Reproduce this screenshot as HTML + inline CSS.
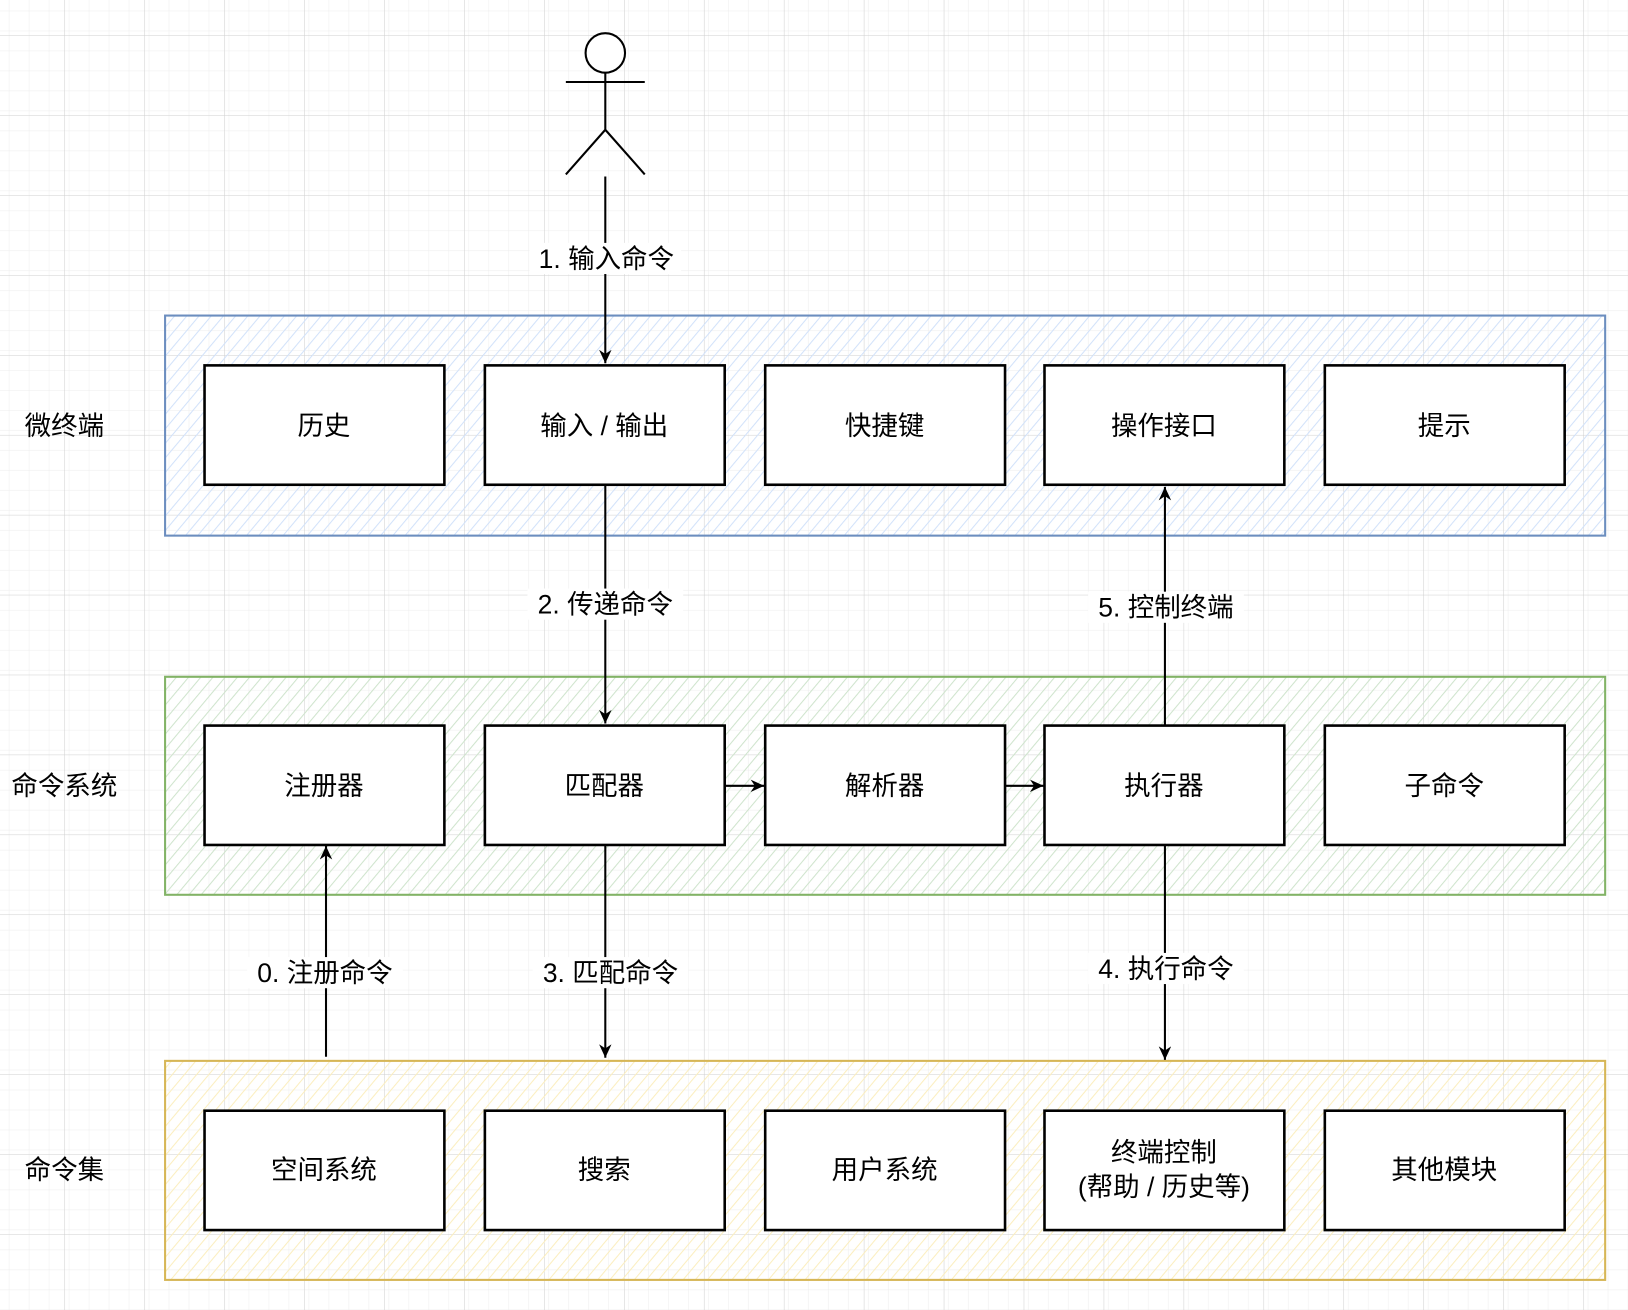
<!DOCTYPE html>
<html><head><meta charset="utf-8"><style>
html,body{margin:0;padding:0;background:#fff;}
svg{display:block;}
text{font-family:"Liberation Sans","Noto Sans CJK SC",sans-serif;font-size:25.5px;fill:#000;}
</style></head><body>
<svg width="1628" height="1310" viewBox="0 0 1568 1262" preserveAspectRatio="none" xmlns="http://www.w3.org/2000/svg">
<defs>
<pattern id="minor" x="-15" y="34" width="19.25" height="19.25" patternUnits="userSpaceOnUse">
<path d="M0 0V19.25M0 0H19.25" stroke="#ececec" stroke-width="1" fill="none"/>
</pattern>
<pattern id="major" x="-15" y="34" width="77" height="77" patternUnits="userSpaceOnUse">
<rect width="77" height="77" fill="url(#minor)"/>
<path d="M0 0V77M0 0H77" stroke="#cfcfcf" stroke-width="1" fill="none"/>
</pattern>
<pattern id="hb" width="9" height="9" patternUnits="userSpaceOnUse" patternTransform="rotate(40)">
<line x1="0" y1="0" x2="0" y2="9" stroke="#d2e2fa" stroke-width="2"/>
</pattern>
<pattern id="hg" width="9" height="9" patternUnits="userSpaceOnUse" patternTransform="rotate(40)">
<line x1="0" y1="0" x2="0" y2="9" stroke="#cfe4cd" stroke-width="2"/>
</pattern>
<pattern id="hy" width="9" height="9" patternUnits="userSpaceOnUse" patternTransform="rotate(40)">
<line x1="0" y1="0" x2="0" y2="9" stroke="#fbeebf" stroke-width="2"/>
</pattern>
<marker id="ar" markerWidth="14" markerHeight="14" refX="13" refY="6" orient="auto" markerUnits="userSpaceOnUse">
<path d="M0 0L13 6L0 12L4 6Z" fill="#000"/>
</marker>
</defs>
<rect width="1568" height="1262" fill="url(#major)"/>

<rect x="159" y="304" width="1387" height="212" fill="url(#hb)" stroke="#6c8ebf" stroke-width="2"/>
<rect x="159" y="652" width="1387" height="210" fill="url(#hg)" stroke="#82b366" stroke-width="2"/>
<rect x="159" y="1022" width="1387" height="211" fill="url(#hy)" stroke="#d6b656" stroke-width="2"/>

<g fill="#fff" stroke="#000" stroke-width="2.5">
<rect x="197" y="352" width="231" height="115"/><rect x="467" y="352" width="231" height="115"/><rect x="737" y="352" width="231" height="115"/><rect x="1006" y="352" width="231" height="115"/><rect x="1276" y="352" width="231" height="115"/>
<rect x="197" y="699" width="231" height="115"/><rect x="467" y="699" width="231" height="115"/><rect x="737" y="699" width="231" height="115"/><rect x="1006" y="699" width="231" height="115"/><rect x="1276" y="699" width="231" height="115"/>
<rect x="197" y="1070" width="231" height="115"/><rect x="467" y="1070" width="231" height="115"/><rect x="737" y="1070" width="231" height="115"/><rect x="1006" y="1070" width="231" height="115"/><rect x="1276" y="1070" width="231" height="115"/>
</g>

<g text-anchor="middle">
<text x="312" y="419">历史</text><text x="582" y="419">输入 / 输出</text><text x="852" y="419">快捷键</text><text x="1121" y="419">操作接口</text><text x="1391" y="419">提示</text>
<text x="312" y="766">注册器</text><text x="582" y="766">匹配器</text><text x="852" y="766">解析器</text><text x="1121" y="766">执行器</text><text x="1391" y="766">子命令</text>
<text x="312" y="1136">空间系统</text><text x="582" y="1136">搜索</text><text x="852" y="1136">用户系统</text><text x="1121" y="1119">终端控制</text><text x="1121" y="1152">(帮助 / 历史等)</text><text x="1391" y="1136">其他模块</text>
<text x="62" y="419">微终端</text><text x="62" y="766">命令系统</text><text x="62" y="1136">命令集</text>
</g>

<g stroke="#000" stroke-width="2" fill="none">
<circle cx="583" cy="51" r="19" fill="#fff"/>
<path d="M583 70V125M545 79H621M545 168L583 125L621 168"/>
<path d="M583 170V350" marker-end="url(#ar)"/>
<path d="M583 468V697" marker-end="url(#ar)"/>
<path d="M1122 699V469" marker-end="url(#ar)"/>
<path d="M698 757H736" marker-end="url(#ar)"/>
<path d="M968 757H1005" marker-end="url(#ar)"/>
<path d="M314 1018V815" marker-end="url(#ar)"/>
<path d="M583 815V1019" marker-end="url(#ar)"/>
<path d="M1122 815V1021" marker-end="url(#ar)"/>
</g>

<g text-anchor="middle">
<rect x="510" y="234" width="146" height="30" fill="#fff"/><text x="584" y="258">1. 输入命令</text>
<rect x="508" y="567" width="150" height="30" fill="#fff"/><text x="583" y="591">2. 传递命令</text>
<rect x="1048" y="570" width="150" height="30" fill="#fff"/><text x="1123" y="594">5. 控制终端</text>
<rect x="238" y="922" width="150" height="30" fill="#fff"/><text x="313" y="946">0. 注册命令</text>
<rect x="513" y="922" width="150" height="30" fill="#fff"/><text x="588" y="946">3. 匹配命令</text>
<rect x="1048" y="918" width="150" height="30" fill="#fff"/><text x="1123" y="942">4. 执行命令</text>
</g>
</svg>
</body></html>
